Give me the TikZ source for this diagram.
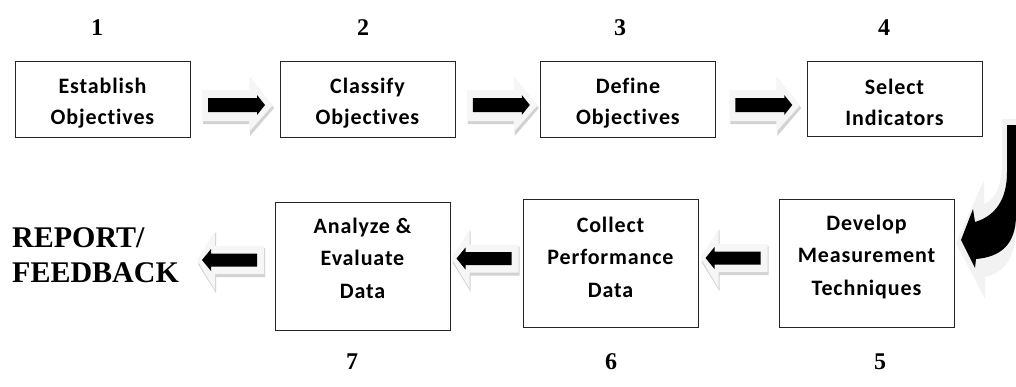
\documentclass[tikz,border=0pt]{standalone}
\usepackage{fontspec}
\setmainfont{Liberation Serif}
\newfontfamily\boxfont[Ligatures=NoCommon,LetterSpace=4]{Carlito}
\usetikzlibrary{calc}
\tikzset{
  box/.style={draw=black!85, line width=1pt, minimum width=175pt, inner sep=0pt},
  btext/.style={inner sep=0pt, font=\boxfont\bfseries\fontsize{22}{31}\selectfont, align=center},
  ttext/.style={btext, font=\boxfont\bfseries\fontsize{22}{32.5}\selectfont},
  num/.style={font=\bfseries\fontsize{24}{26}\selectfont, inner sep=0pt},
  rarrow/.pic={
    \fill[gray!35] (-32,-15) -- (15,-15) -- (15,-27) -- (39,3) -- (15,31) -- (15,19) -- (-32,19) -- cycle;
    \fill[gray!7] (-33,-15) -- (14,-15) -- (14,-28) -- (38,0) -- (14,27) -- (14,16) -- (-33,16) -- cycle;
    \fill[black] (-27,-7) -- (22,-7) -- (22,-10) -- (30,0) -- (22,10) -- (22,7) -- (-27,7) -- cycle;
  },
  larrow/.pic={
    \fill[gray!35] (33,-12) -- (-16,-12) -- (-16,-28) -- (-34,4) -- (-16,33) -- (-16,17) -- (33,17) -- cycle;
    \fill[gray!7] (32,-14) -- (-17,-14) -- (-17,-29) -- (-35,0) -- (-17,30) -- (-17,14) -- (32,14) -- cycle;
    \fill[black] (25,-6.5) -- (-21,-6.5) -- (-21,-11) -- (-30,0) -- (-21,11) -- (-21,6.5) -- (25,6.5) -- cycle;
  }
}
\begin{document}
\begin{tikzpicture}[x=1pt,y=-1pt]
\useasboundingbox (0,0) rectangle (1016,386);
% top row
\node[box, minimum height=76pt] (b1) at (102.5,99) {};
\node[box, minimum height=76pt] (b2) at (367.5,99) {};
\node[box, minimum height=76pt] (b3) at (628,99) {};
\node[box, minimum height=75pt] (b4) at (894.5,99) {};
\node[btext] (t1) at ($(b1.center)+(0,4)$) {Establish\\Objectives};
\node[btext] (t2) at ($(b2.center)+(0,4)$) {Classify\\Objectives};
\node[btext] (t3) at ($(b3.center)+(0,4)$) {Define\\Objectives};
\node[btext] (t4) at ($(b4.center)+(0,3)$) {Select\\Indicators};
% bottom row
\node[box, minimum height=128pt] (b7) at (362.5,266) {};
\node[box, minimum height=128pt] (b6) at (610.5,263) {};
\node[box, minimum height=128pt] (b5) at (866.5,263) {};
\node[ttext] (t7) at (362.5,258) {Analyze \&\\Evaluate\\Data};
\node[ttext] (t6) at (610.5,257) {Collect\\Performance\\Data};
\node[ttext] (t5) at (866.5,257) {Develop\\Measurement\\Techniques};
% numbers
\node[num] (n1) at (97,28) {1};
\node[num] (n2) at (363,28) {2};
\node[num] (n3) at (620,28) {3};
\node[num] (n4) at (884,28) {4};
\node[num] (n7) at (352,362) {7};
\node[num] (n6) at (611,362) {6};
\node[num] (n5) at (880,362) {5};
% report
\node[anchor=west, align=left, inner sep=0pt, font=\bfseries\fontsize{30}{35}\selectfont] (rep) at (12,255) {REPORT/\\FEEDBACK};
% block arrows top
\pic at ($(b1.east)!0.5!(b2.west)+(0,6)$) {rarrow};
\pic at ($(b2.east)!0.5!(b3.west)+(2,6)$) {rarrow};
\pic at ($(b3.east)!0.5!(b4.west)+(1,6)$) {rarrow};
% block arrows bottom
\pic at ($(b7.east)!0.5!(b6.west)+(0,-6)$) {larrow};
\pic at ($(b6.east)!0.5!(b5.west)+(-3,-5)$) {larrow};
\pic at (232,260) {larrow};
% curved arrow
\fill[gray!10] (1002,119) -- (1016,119) -- (1016,228) .. controls (1016,262) and (1000,274) .. (985,277) -- (985,299) -- (956,243) -- (984,180) -- (984,204) .. controls (996,199) and (1002,185) .. (1002,160) -- cycle;
\fill[black] (1007,125) -- (1016,125) -- (1016,215) .. controls (1016,245) and (1000,257) .. (976,259) -- (975,268) -- (961,240) -- (973,209) -- (975,222) .. controls (995,216) and (1007,200) .. (1007,172) -- cycle;
\end{tikzpicture}
\end{document}
